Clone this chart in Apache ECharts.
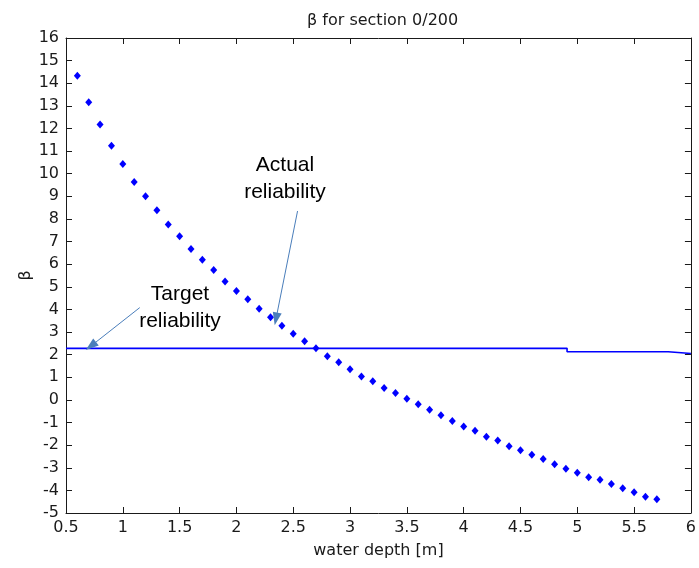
<!DOCTYPE html>
<html>
<head>
<meta charset="utf-8">
<script src="https://cdn.jsdelivr.net/npm/echarts@6/dist/echarts.min.js"></script>
<style>html,body{margin:0;padding:0;background:#fff}#c{width:699px;height:568px}</style>
</head>
<body>
<div id="c"></div>
<script>
// ---- data ----
const depthValues = [0.6,0.7,0.8,0.9,1.0,1.1,1.2,1.3,1.4,1.5,1.6,1.7,1.8,1.9,2.0,2.1,2.2,2.3,2.4,2.5,2.6,2.7,2.8,2.9,3.0,3.1,3.2,3.3,3.4,3.5,3.6,3.7,3.8,3.9,4.0,4.1,4.2,4.3,4.4,4.5,4.6,4.7,4.8,4.9,5.0,5.1,5.2,5.3,5.4,5.5,5.6,5.7];
const betaActual = [14.33,13.16,12.18,11.24,10.43,9.63,9.0,8.38,7.76,7.23,6.67,6.20,5.74,5.24,4.82,4.45,4.03,3.65,3.28,2.92,2.59,2.28,1.93,1.66,1.35,1.04,0.82,0.53,0.31,0.05,-0.19,-0.43,-0.68,-0.93,-1.18,-1.36,-1.63,-1.80,-2.05,-2.23,-2.43,-2.61,-2.85,-3.04,-3.22,-3.42,-3.53,-3.72,-3.91,-4.08,-4.28,-4.39];
const targetDepth = [0.5,4.91,4.91,5.80,5.80,6.0];
const targetBeta = [2.28,2.28,2.13,2.13,2.05,2.05];
const titleText = 'β for section 0/200';
const xName = 'water depth [m]';
const yName = 'β';
const actualArrow = [[2.538,8.35],[2.348,3.58]];
const targetArrow = [[1.149,4.08],[0.719,2.38]];

const chart = echarts.init(document.getElementById('c'), null, {renderer:'canvas'});
const font = 'DejaVu Sans';
const axisCommon = {
  type:'value',
  axisLine:{show:true, onZero:false, lineStyle:{color:'#1a1a1a', width:1}},
  axisTick:{show:true, inside:true, length:6, lineStyle:{color:'#1a1a1a'}},
  splitLine:{show:false}
};
function xAx(pos, labels){
  return Object.assign({}, axisCommon, {position:pos, min:0.5, max:6, interval:0.5,
    axisLabel:{show:labels, color:'#1a1a1a', fontFamily:font, fontSize:16, margin:7},
    name: labels ? xName : '', nameLocation:'middle', nameGap:30, nameMoveOverlap:false,
    nameTextStyle:{color:'#1a1a1a', fontFamily:font, fontSize:16}});
}
function yAx(pos, labels){
  return Object.assign({}, axisCommon, {position:pos, min:-5, max:16, interval:1,
    axisLabel:{show:labels, color:'#1a1a1a', fontFamily:font, fontSize:16, margin:7},
    name: labels ? yName : '', nameLocation:'middle', nameGap:32, nameMoveOverlap:false,
    nameTextStyle:{color:'#1a1a1a', fontFamily:font, fontSize:16}});
}
const option = {
  animation:false,
  backgroundColor:'#fff',
  title:{text:titleText, left:302, top:8, textStyle:{fontFamily:font, fontSize:16, fontWeight:'normal', color:'#1a1a1a'}},
  grid:{left:66, right:6, top:38, bottom:55, containLabel:false},
  xAxis:[xAx('bottom', true), xAx('top', false)],
  yAxis:[yAx('left', true), yAx('right', false)],
  series:[
    {type:'line', name:'target', data: targetDepth.map((x,i)=>[x,targetBeta[i]]),
     showSymbol:false, lineStyle:{color:'#0000ff', width:1.6}, itemStyle:{color:'#0000ff'}, z:2},
    {type:'scatter', name:'actual', data: depthValues.map((x,i)=>[x,betaActual[i]]),
     symbol:'diamond', symbolSize:[7,8], itemStyle:{color:'#0000ff', opacity:1}, z:3},
    {type:'line', name:'arrows', data:[], z:4,
     markLine:{silent:true, symbol:['none','triangle'], symbolSize:[9,13], label:{show:false},
       lineStyle:{color:'#4a7ebb', width:1, type:'solid'},
       data:[
         [{coord:actualArrow[0]},{coord:actualArrow[1]}],
         [{coord:targetArrow[0]},{coord:targetArrow[1]}]
       ]}}
  ],
  graphic:[
    {type:'text', x:285, y:178.5, style:{text:'Actual\nreliability', align:'center', verticalAlign:'middle', font:'21px "Liberation Sans", Arial, sans-serif', lineHeight:27, fill:'#000'}},
    {type:'text', x:180, y:307.5, style:{text:'Target\nreliability', align:'center', verticalAlign:'middle', font:'21px "Liberation Sans", Arial, sans-serif', lineHeight:27, fill:'#000'}}
  ]
};
chart.setOption(option);
</script>
</body>
</html>
